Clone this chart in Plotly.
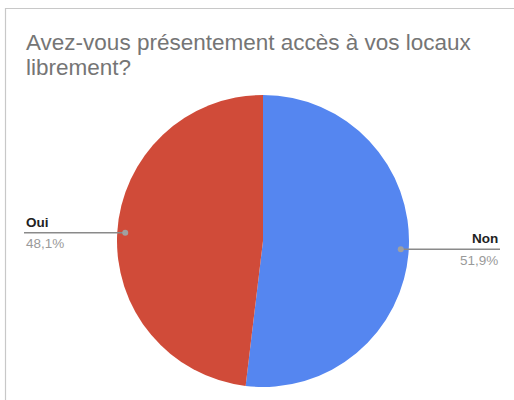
import math
import plotly.graph_objects as go

# Survey answers (share of respondents, %)
labels = ["Non", "Oui"]
values = [51.9, 48.1]
value_text = ["51,9%", "48,1%"]
colors = ["#5586F0", "#D04B39"]

title_lines = ["Avez-vous présentement accès à vos locaux", "librement?"]

W, H = 514, 400
# pie geometry in pixels
cx, cy, R = 263, 241, 146
dot_r = 138  # radius where leader dots sit
FONT = "Liberation Sans, Arial"


def px(x):
    return x / W


def py(y):
    return 1 - y / H


fig = go.Figure()
fig.add_trace(go.Pie(
    labels=labels,
    values=values,
    sort=False,
    direction="clockwise",
    rotation=0,
    marker=dict(colors=colors, line=dict(width=0)),
    textinfo="none",
    hoverinfo="label+percent",
    showlegend=False,
    domain=dict(x=[px(cx - R), px(cx + R)], y=[py(cy + R), py(cy - R)]),
))

shapes = []
annotations = []

# outer frame
shapes.append(dict(type="rect", xref="paper", yref="paper",
                   x0=px(5.5), x1=1.05, y0=-0.05, y1=py(8.5),
                   line=dict(color="#C8C8C8", width=1.2), fillcolor="rgba(0,0,0,0)"))

# leader lines, dots and labels at each slice's mid-angle
total = sum(values)
cum = 0.0
for lab, val, txt in zip(labels, values, value_text):
    mid = (cum + val / 2) / total * 2 * math.pi
    cum += val
    dx = cx + dot_r * math.sin(mid)
    dy = cy - dot_r * math.cos(mid)
    right = math.sin(mid) > 0
    end_x = 500 if right else 24
    shapes.append(dict(type="line", xref="paper", yref="paper",
                       x0=px(dx), x1=px(end_x), y0=py(dy), y1=py(dy),
                       line=dict(color="#8A8A8A", width=1.5)))
    shapes.append(dict(type="circle", xref="paper", yref="paper",
                       x0=px(dx - 3), x1=px(dx + 3), y0=py(dy + 3), y1=py(dy - 3),
                       line=dict(width=0), fillcolor="#A0A0A0"))
    anchor = "right" if right else "left"
    annotations.append(dict(xref="paper", yref="paper", x=px(end_x), y=py(dy - 1),
                            xanchor=anchor, yanchor="bottom", showarrow=False,
                            text="<b>" + lab + "</b>",
                            font=dict(family=FONT, size=13.5, color="#222222")))
    annotations.append(dict(xref="paper", yref="paper", x=px(end_x), y=py(dy + 1.5),
                            xanchor=anchor, yanchor="top", showarrow=False,
                            text=txt,
                            font=dict(family=FONT, size=13.5, color="#9A9A9A")))

# two-line title
for i, line in enumerate(title_lines):
    annotations.append(dict(xref="paper", yref="paper", x=px(24), y=py(28 + 25 * i),
                            xanchor="left", yanchor="top", align="left", showarrow=False,
                            text=line,
                            font=dict(family=FONT, size=22.5, color="#757575")))

fig.update_layout(
    width=W, height=H,
    margin=dict(l=0, r=0, t=0, b=0),
    paper_bgcolor="white",
    plot_bgcolor="white",
    shapes=shapes,
    annotations=annotations,
)

fig.write_html("out.html")
